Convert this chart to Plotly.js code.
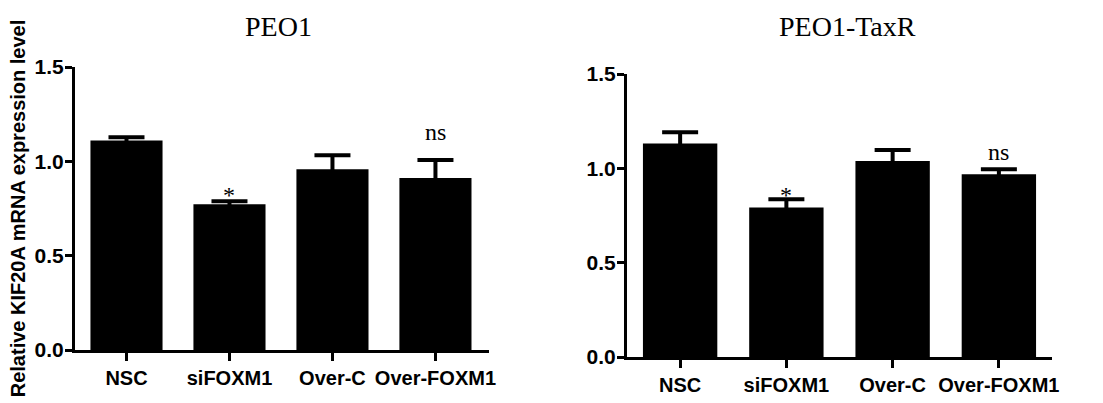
<!DOCTYPE html>
<html>
<head>
<meta charset="utf-8">
<script src="https://cdn.plot.ly/plotly-3.0.1.min.js"></script>
<style>
  html, body { margin: 0; padding: 0; background: #ffffff; }
  #chart { width: 1103px; height: 403px; }
</style>
</head>
<body>
<div id="chart"></div>
<script>
// ---- data ----
const categories = ['NSC', 'siFOXM1', 'Over-C', 'Over-FOXM1'];
const peo1Values = [1.111, 0.772, 0.958, 0.912];
const peo1Errors = [0.017, 0.016, 0.074, 0.095];
const taxrValues = [1.132, 0.793, 1.039, 0.968];
const taxrErrors = [0.059, 0.043, 0.058, 0.027];
const peo1Marks = ['', '*', '', 'ns'];
const taxrMarks = ['', '*', '', 'ns'];
const panelTitles = ['PEO1', 'PEO1-TaxR'];
const yTickVals = [0, 0.5, 1.0, 1.5];
const yTickText = ['0.0', '0.5', '1.0', '1.5'];
const yAxisTitle = 'Relative KIF20A mRNA expression level';

// ---- styling ----
const W = 1103, H = 403;
const boldFont = { family: 'Liberation Sans, Arial, sans-serif', size: 20, color: '#000', weight: 'bold' };
const yTickFont = { family: 'Liberation Sans, Arial, sans-serif', size: 21, color: '#000', weight: 'bold' };
const serifFont = { family: 'Liberation Serif, Times New Roman, serif', size: 28, color: '#000', weight: 'normal' };
const markFont = { family: 'Liberation Serif, Times New Roman, serif', size: 24, color: '#000', weight: 'normal' };

function barTrace(values, errors, xa, ya) {
  return {
    type: 'bar', x: categories, y: values, xaxis: xa, yaxis: ya,
    marker: { color: '#000', line: { width: 0 } },
    error_y: { type: 'data', array: errors, visible: true, color: '#000', thickness: 4, width: 18 },
    hoverinfo: 'skip', showlegend: false
  };
}

const data = [
  barTrace(peo1Values, peo1Errors, 'x', 'y'),
  barTrace(taxrValues, taxrErrors, 'x2', 'y2')
];

function xAxis(domain, range, anchor) {
  return {
    domain: domain, anchor: anchor, type: 'category', range: range,
    showline: true, linewidth: 3, linecolor: '#000',
    ticks: 'outside', ticklen: 8, tickwidth: 3, tickcolor: '#000',
    tickfont: boldFont, showgrid: false, zeroline: false, fixedrange: true
  };
}
function yAxis(domain, anchor, withTitle) {
  const ax = {
    domain: domain, anchor: anchor, range: [0, 1.5],
    tickvals: yTickVals, ticktext: yTickText,
    showline: true, linewidth: 3, linecolor: '#000',
    ticks: 'outside', ticklen: 7, tickwidth: 3, tickcolor: '#000',
    tickfont: yTickFont, ticklabelstandoff: -3,
    showgrid: false, zeroline: false, fixedrange: true
  };
  if (withTitle) ax.title = { text: yAxisTitle, font: boldFont, standoff: 4 };
  return ax;
}

const leftX = [75 / W, 489 / W], rightX = [627 / W, 1052 / W];
const leftY = [1 - 350 / H, 1 - 67 / H], rightY = [1 - 357 / H, 1 - 74 / H];

const annotations = [];
// panel titles
annotations.push({ text: panelTitles[0], xref: 'paper', yref: 'paper', x: (leftX[0] + leftX[1]) / 2 - 4 / W, y: 1 - 27 / H,
  xanchor: 'center', yanchor: 'middle', showarrow: false, font: serifFont });
annotations.push({ text: panelTitles[1], xref: 'paper', yref: 'paper', x: (rightX[0] + rightX[1]) / 2 + 8 / W, y: 1 - 27 / H,
  xanchor: 'center', yanchor: 'middle', showarrow: false, font: serifFont });
// significance marks
const peo1Shift = [0, 6, 0, 28];
const taxrShift = [0, 4.5, 0, 17];
categories.forEach((c, i) => {
  if (peo1Marks[i]) annotations.push({ text: peo1Marks[i], x: c, y: peo1Values[i] + peo1Errors[i], xref: 'x', yref: 'y',
    yshift: peo1Shift[i], xanchor: 'center', yanchor: 'middle', showarrow: false, font: markFont });
  if (taxrMarks[i]) annotations.push({ text: taxrMarks[i], x: c, y: taxrValues[i] + taxrErrors[i], xref: 'x2', yref: 'y2',
    yshift: taxrShift[i], xanchor: 'center', yanchor: 'middle', showarrow: false, font: markFont });
});

const layout = {
  width: W, height: H,
  margin: { l: 0, r: 0, t: 0, b: 0, pad: 0 },
  paper_bgcolor: '#fff', plot_bgcolor: '#fff',
  bargap: 0.3,
  xaxis: xAxis(leftX, [-0.5, 3.52], 'y'),
  yaxis: yAxis(leftY, 'x', true),
  xaxis2: xAxis(rightX, [-0.5, 3.5], 'y2'),
  yaxis2: yAxis(rightY, 'x2', false),
  annotations: annotations,
  font: boldFont
};

Plotly.newPlot('chart', data, layout, { displayModeBar: false, staticPlot: true });
</script>
</body>
</html>
